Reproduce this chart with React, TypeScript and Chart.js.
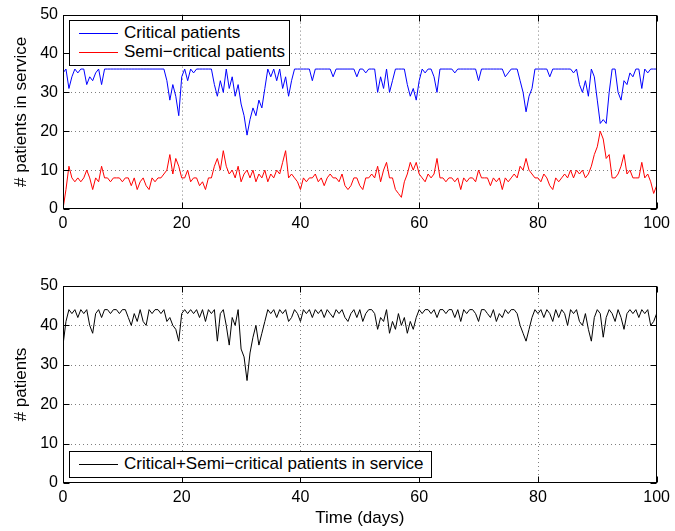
import React, { useEffect, useRef } from "react";
import { Chart, registerables } from "chart.js";

Chart.register(...registerables);

// Sampling interval of the series (days)
const DAY_STEP = 0.5;

// Critical patients in service (every 0.5 day, day 0 .. 100)
const CRITICAL = [
  35, 36, 31, 34, 36, 35, 36, 36, 32, 34,
  33, 35, 36, 32, 36, 36, 36, 36, 36, 36,
  36, 36, 36, 36, 36, 36, 36, 36, 36, 36,
  36, 36, 36, 36, 36, 33, 28, 32, 29, 24,
  34, 36, 33, 36, 35, 36, 36, 36, 36, 36,
  36, 32, 29, 33, 30, 36, 31, 34, 29, 32,
  27, 24, 19, 23, 26, 24, 28, 26, 31, 36,
  34, 36, 33, 36, 31, 34, 29, 33, 36, 36,
  36, 36, 36, 36, 33, 36, 36, 36, 36, 36,
  36, 34, 36, 36, 36, 36, 36, 36, 36, 34,
  36, 36, 35, 36, 36, 36, 30, 34, 31, 36,
  30, 33, 36, 36, 36, 36, 32, 29, 31, 28,
  33, 36, 35, 36, 36, 34, 30, 36, 36, 36,
  36, 36, 35, 36, 36, 36, 36, 36, 36, 36,
  33, 36, 36, 36, 36, 36, 36, 36, 36, 34,
  35, 36, 36, 36, 33, 30, 25, 29, 31, 36,
  36, 36, 36, 36, 34, 36, 36, 36, 36, 36,
  36, 36, 35, 36, 32, 30, 33, 29, 36, 34,
  28, 22, 23, 22, 30, 36, 36, 30, 28, 33,
  32, 35, 34, 36, 36, 31, 36, 35, 36, 36,
  36,
];

// Semi-critical patients in service
const SEMI = [
  0, 5, 11, 8, 7, 8, 7, 8, 10, 8,
  5, 8, 7, 11, 8, 8, 7, 8, 8, 8,
  7, 8, 8, 6, 8, 5, 7, 8, 6, 5,
  8, 7, 8, 8, 9, 10, 14, 9, 13, 11,
  8, 8, 10, 7, 8, 8, 6, 7, 5, 8,
  8, 11, 13, 10, 15, 11, 9, 10, 8, 11,
  7, 9, 10, 8, 10, 7, 9, 8, 10, 7,
  9, 8, 10, 9, 12, 15, 8, 9, 8, 7,
  5, 8, 7, 8, 8, 9, 7, 8, 6, 8,
  9, 8, 8, 7, 9, 6, 5, 6, 8, 8,
  6, 5, 8, 8, 9, 8, 11, 7, 10, 12,
  8, 8, 5, 4, 3, 7, 9, 12, 10, 12,
  9, 8, 7, 9, 8, 9, 13, 8, 8, 7,
  8, 8, 7, 8, 5, 8, 7, 8, 8, 7,
  10, 8, 8, 8, 6, 8, 7, 8, 5, 8,
  7, 8, 9, 8, 11, 10, 13, 10, 9, 8,
  8, 7, 9, 8, 6, 5, 8, 7, 8, 9,
  8, 10, 8, 10, 9, 10, 8, 9, 11, 14,
  16, 20, 18, 13, 14, 8, 8, 9, 11, 14,
  9, 10, 8, 8, 8, 12, 8, 9, 7, 4,
  6,
];

// Critical + semi-critical patients in service
const TOTAL = [
  35, 41, 44, 43, 44, 42, 44, 43, 44, 40,
  38, 43, 44, 42, 44, 44, 43, 44, 44, 43,
  44, 44, 42, 40, 43, 41, 44, 41, 40, 44,
  43, 44, 44, 43, 44, 41, 42, 40, 39, 36,
  43, 44, 43, 44, 43, 44, 42, 44, 41, 44,
  43, 44, 36, 43, 44, 40, 35, 42, 40, 44,
  34, 32, 26, 33, 37, 40, 35, 38, 41, 44,
  43, 44, 42, 44, 43, 44, 41, 42, 44, 43,
  41, 44, 43, 44, 42, 44, 43, 44, 42, 44,
  43, 42, 44, 43, 44, 42, 41, 43, 44, 42,
  44, 41, 43, 44, 44, 43, 39, 42, 41, 44,
  38, 41, 39, 43, 40, 42, 38, 41, 39, 42,
  44, 43, 44, 44, 43, 44, 42, 44, 44, 43,
  44, 44, 42, 44, 41, 44, 43, 44, 44, 43,
  41, 44, 44, 43, 42, 44, 41, 43, 42, 44,
  43, 44, 44, 43, 40, 38, 36, 39, 42, 44,
  43, 44, 42, 44, 43, 41, 44, 42, 44, 43,
  40, 44, 43, 44, 41, 40, 43, 39, 36, 42,
  44, 43, 37, 42, 44, 43, 41, 44, 42, 39,
  43, 44, 43, 44, 42, 44, 43, 44, 40, 41,
  43,
];

const X_MIN = 0;
const X_MAX = 100;
const X_STEP = 20;
const Y_MIN = 0;
const Y_MAX = 50;
const Y_STEP = 10;

const LABEL_CRITICAL = "Critical patients";
const LABEL_SEMI = "Semi\u2212critical patients";
const LABEL_TOTAL = "Critical+Semi\u2212critical patients in service";
const Y_TITLE_TOP = "# patients in service";
const Y_TITLE_BOTTOM = "# patients";
const X_TITLE = "Time (days)";

const FONT = "'Liberation Sans', Arial, Helvetica, sans-serif";

const toPoints = (vals: number[]) => vals.map((v, i) => ({ x: i * DAY_STEP, y: v }));

const matlabAxes = {
  id: "matlabAxes",
  beforeDatasetsDraw(chart: any) {
    const { ctx, chartArea: a, scales } = chart;
    const x = scales.x;
    const y = scales.y;
    ctx.save();
    ctx.strokeStyle = "rgba(0,0,0,0.5)";
    ctx.lineWidth = 1;
    ctx.setLineDash([1, 3]);
    x.ticks.forEach((t: any) => {
      const px = Math.round(x.getPixelForValue(t.value)) + 0.5;
      if (px > a.left + 2 && px < a.right - 2) {
        ctx.beginPath();
        ctx.moveTo(px, a.top);
        ctx.lineTo(px, a.bottom);
        ctx.stroke();
      }
    });
    y.ticks.forEach((t: any) => {
      const py = Math.round(y.getPixelForValue(t.value)) + 0.5;
      if (py > a.top + 2 && py < a.bottom - 2) {
        ctx.beginPath();
        ctx.moveTo(a.left, py);
        ctx.lineTo(a.right, py);
        ctx.stroke();
      }
    });
    ctx.restore();
  },
  afterDraw(chart: any) {
    const { ctx, chartArea: a, scales } = chart;
    const x = scales.x;
    const y = scales.y;
    const L = 6;
    ctx.save();
    ctx.strokeStyle = "#000";
    ctx.lineWidth = 1;
    ctx.setLineDash([]);
    const l = Math.round(a.left) + 0.5;
    const r = Math.round(a.right) - 0.5;
    const t0 = Math.round(a.top) + 0.5;
    const b = Math.round(a.bottom) - 0.5;
    ctx.strokeRect(l, t0, r - l, b - t0);
    ctx.beginPath();
    x.ticks.forEach((t: any) => {
      const px = Math.round(x.getPixelForValue(t.value)) + 0.5;
      ctx.moveTo(px, b);
      ctx.lineTo(px, b - L);
      ctx.moveTo(px, t0);
      ctx.lineTo(px, t0 + L);
    });
    y.ticks.forEach((t: any) => {
      const py = Math.round(y.getPixelForValue(t.value)) + 0.5;
      ctx.moveTo(l, py);
      ctx.lineTo(l + L, py);
      ctx.moveTo(r, py);
      ctx.lineTo(r - L, py);
    });
    ctx.stroke();
    ctx.restore();
  },
};

function makeOptions(yTitle: string, xTitle: string | null, xHeight: number, padTop: number) {
  return {
    responsive: false,
    animation: false as const,
    devicePixelRatio: 1,
    layout: { padding: { top: padTop, right: 18, left: 0, bottom: 0 } },
    plugins: { legend: { display: false }, tooltip: { enabled: false } },
    elements: { point: { radius: 0 }, line: { tension: 0, borderWidth: 1 } },
    scales: {
      x: {
        type: "linear" as const,
        min: X_MIN,
        max: X_MAX,
        grid: { display: false, drawTicks: false },
        border: { display: false },
        ticks: {
          stepSize: X_STEP,
          padding: 5,
          color: "#000",
          font: { family: FONT, size: 16 },
          maxRotation: 0,
        },
        title: xTitle
          ? {
              display: true,
              text: xTitle,
              color: "#000",
              font: { family: FONT, size: 17 },
              padding: { top: 0, bottom: 2 },
            }
          : { display: false },
        afterFit: (s: any) => {
          s.height = xHeight;
        },
      },
      y: {
        type: "linear" as const,
        min: Y_MIN,
        max: Y_MAX,
        grid: { display: false, drawTicks: false },
        border: { display: false },
        ticks: {
          stepSize: Y_STEP,
          padding: 5,
          color: "#000",
          font: { family: FONT, size: 16 },
        },
        title: {
          display: true,
          text: yTitle,
          color: "#000",
          font: { family: FONT, size: 17 },
          padding: { top: 11, bottom: 0 },
        },
        afterFit: (s: any) => {
          s.width = 63;
        },
      },
    },
  };
}

export default function App() {
  const topRef = useRef<HTMLCanvasElement>(null);
  const botRef = useRef<HTMLCanvasElement>(null);

  useEffect(() => {
    const c1 = new Chart(topRef.current as HTMLCanvasElement, {
      type: "line",
      data: {
        datasets: [
          { label: LABEL_CRITICAL, data: toPoints(CRITICAL), borderColor: "#0000ff", borderWidth: 1, pointRadius: 0 },
          { label: LABEL_SEMI, data: toPoints(SEMI), borderColor: "#ff0000", borderWidth: 1, pointRadius: 0 },
        ],
      },
      options: makeOptions(Y_TITLE_TOP, null, 31, 13) as any,
      plugins: [matlabAxes],
    });
    const c2 = new Chart(botRef.current as HTMLCanvasElement, {
      type: "line",
      data: {
        datasets: [
          { label: LABEL_TOTAL, data: toPoints(TOTAL), borderColor: "#000000", borderWidth: 1, pointRadius: 0 },
        ],
      },
      options: makeOptions(Y_TITLE_BOTTOM, X_TITLE, 48, 21) as any,
      plugins: [matlabAxes],
    });
    return () => {
      c1.destroy();
      c2.destroy();
    };
  }, []);

  const legendText: React.CSSProperties = {
    position: "absolute",
    left: 54,
    fontFamily: FONT,
    fontSize: 17,
    lineHeight: "20px",
    color: "#000",
    whiteSpace: "nowrap",
  };
  const legendLine = (color: string, top: number): React.CSSProperties => ({
    position: "absolute",
    left: 9,
    width: 39,
    height: 1,
    top,
    background: color,
  });

  return (
    <div style={{ position: "absolute", left: 0, top: 0, width: 675, height: 531, background: "#fff" }}>
      <canvas ref={topRef} width={675} height={240} style={{ position: "absolute", left: 0, top: 0 }} />
      <canvas ref={botRef} width={675} height={266} style={{ position: "absolute", left: 0, top: 265 }} />
      <div
        style={{
          position: "absolute",
          left: 69,
          top: 20,
          width: 221,
          height: 46,
          border: "1px solid #000",
          background: "#fff",
          boxSizing: "border-box",
        }}
      >
        <div style={legendLine("#0000ff", 12)} />
        <div style={{ ...legendText, top: 2 }}>{LABEL_CRITICAL}</div>
        <div style={legendLine("#ff0000", 31)} />
        <div style={{ ...legendText, top: 21 }}>{LABEL_SEMI}</div>
      </div>
      <div
        style={{
          position: "absolute",
          left: 69,
          top: 451,
          width: 363,
          height: 27,
          border: "1px solid #000",
          background: "#fff",
          boxSizing: "border-box",
        }}
      >
        <div style={legendLine("#000000", 12)} />
        <div style={{ ...legendText, top: 2 }}>{LABEL_TOTAL}</div>
      </div>
    </div>
  );
}
